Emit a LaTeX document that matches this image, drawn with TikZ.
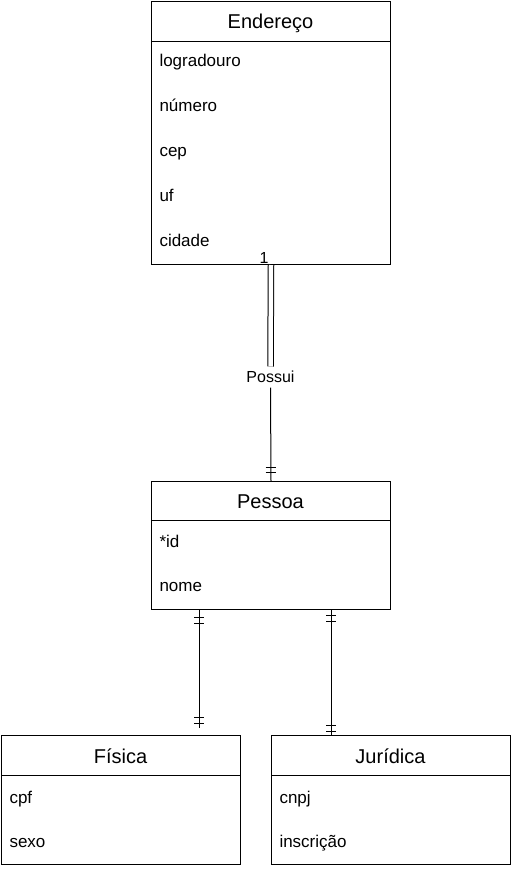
\documentclass[tikz,border=0pt]{standalone}
\usepackage{fontspec}
\setmainfont{Liberation Sans}
\usepackage{tikz}

\begin{document}
\begin{tikzpicture}[x=1pt, y=-1pt, line width=1pt,
  box/.style={rectangle, draw, anchor=north west, minimum width=239pt, inner sep=0pt},
  title/.style={anchor=base, inner sep=0pt, font=\fontsize{20}{24}\selectfont},
  attr/.style={anchor=base west, inner sep=0pt, font=\fontsize{17}{20}\selectfont},
  lbl/.style={inner sep=0pt, font=\fontsize{16}{19}\selectfont}]
  \useasboundingbox (0, 0) rectangle (512, 870);
  \node (endereco) [box, minimum height=263pt] at (151, 1) {};
  \node (endereco title) [title] at (270.5, 28) {Endereço};
  \draw ([yshift=-40pt]endereco.north west) -- ([yshift=-40pt]endereco.north east);
  \node (logradouro) [attr] at (159, 66) {logradouro};
  \node (numero) [attr] at (159, 111) {número};
  \node (cep) [attr] at (159, 156) {cep};
  \node (uf) [attr] at (159, 201) {uf};
  \node (cidade) [attr] at (159, 246) {cidade};
  \node (pessoa) [box, minimum height=128pt] at (151, 481) {};
  \node (pessoa title) [title] at (270.5, 508) {Pessoa};
  \draw ([yshift=-39pt]pessoa.north west) -- ([yshift=-39pt]pessoa.north east);
  \node (id) [attr] at (159, 547) {*id};
  \node (nome) [attr] at (159, 591) {nome};
  \node (fisica) [box, minimum height=129pt] at (1, 735) {};
  \node (fisica title) [title] at (120.5, 763) {Física};
  \draw ([yshift=-40pt]fisica.north west) -- ([yshift=-40pt]fisica.north east);
  \node (cpf) [attr] at (9, 803) {cpf};
  \node (sexo) [attr] at (9, 847) {sexo};
  \node (juridica) [box, minimum height=129pt] at (271, 735) {};
  \node (juridica title) [title] at (390.5, 763) {Jurídica};
  \draw ([yshift=-40pt]juridica.north west) -- ([yshift=-40pt]juridica.north east);
  \node (cnpj) [attr] at (279, 803) {cnpj};
  \node (inscricao) [attr] at (279, 847) {inscrição};
  \node (um) [lbl, anchor=base] at (264, 263) {1};
  \node (possui) [lbl, minimum height=20pt] at (270.5, 377) {Possui};
  \coordinate (fisica end) at ([xshift=78.5pt, yshift=7pt]fisica.north);
  \draw [double, double distance=4.5pt] (endereco.south) -- (possui.north);
  \draw (possui.south) -- (pessoa.north);
  \draw ([xshift=-71.5pt]pessoa.south) -- (fisica end);
  \draw ([xshift=60.5pt]pessoa.south) -- ([xshift=-59.5pt]juridica.north);
  \foreach \y in {467, 472} \draw (265.5, \y) -- (275.5, \y);
  \foreach \y in {617, 623, 717, 723} \draw (194, \y) -- (204, \y);
  \foreach \y in {615, 621, 725, 731} \draw (326, \y) -- (336, \y);
\end{tikzpicture}
\end{document}
